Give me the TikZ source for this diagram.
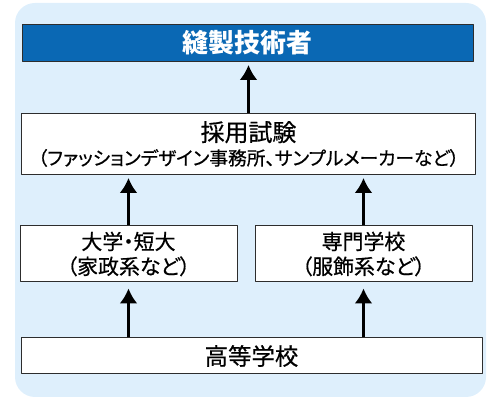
\documentclass[tikz,border=0pt]{standalone}
\usepackage{fontspec}
\newfontfamily\jpfont[FakeBold=0.6]{Noto Sans CJK JP}
\newfontfamily\jppfont[RawFeature=+palt,FakeBold=0.6]{Noto Sans CJK JP}
\newfontfamily\jpbfont{Noto Sans CJK JP}
\usetikzlibrary{arrows.meta}
\definecolor{bgblue}{RGB}{222,239,252}
\definecolor{topblue}{RGB}{10,104,180}
\definecolor{edgegray}{RGB}{45,45,45}
\begin{document}
\begin{tikzpicture}[>={Latex[width=18bp,length=15bp]},line join=bevel,
  box/.style={draw=edgegray,line width=1bp,fill=white,rectangle,inner sep=0pt,align=center},
  up/.style={->,line width=2.6bp,shorten >=3bp}]
%%
\useasboundingbox (0bp,0bp) rectangle (500bp,400bp);
\fill [bgblue,rounded corners=20bp] (15bp,3bp) rectangle (486bp,397bp);
\node (title) at (247.5bp,357bp) [box,fill=topblue,text=white,minimum width=451bp,minimum height=37bp,font=\jpbfont\bfseries\fontsize{26}{30}\selectfont] {縫製技術者};
  \node (exam) at (248.5bp,256bp) [box,minimum width=454bp,minimum height=61bp,font=\jpfont\fontsize{24}{24}\selectfont] {採用試験\\\jppfont\fontsize{18.8}{24}\selectfont （ファッションデザイン事務所、サンプルメーカーなど）};
  \node (univ) at (128.5bp,146bp) [box,minimum width=217bp,minimum height=56bp,font=\jppfont\fontsize{21}{25}\selectfont] {大学・短大\\（家政系など）};
  \node (senmon) at (363.5bp,146bp) [box,minimum width=217bp,minimum height=56bp,font=\jppfont\fontsize{21}{25}\selectfont] {専門学校\\（服飾系など）};
  \node (koko) at (251.5bp,44bp) [box,minimum width=461bp,minimum height=36bp,font=\jpfont\fontsize{23.5}{26}\selectfont] {高等学校};
  \draw [up] (exam.north) -- (exam.north |- title.south);
  \draw [up] (univ.north) -- (univ.north |- exam.south);
  \draw [up] (senmon.north) -- (senmon.north |- exam.south);
  \draw [up,shorten >=6bp] (univ.south |- koko.north) -- (univ.south);
  \draw [up,shorten >=6bp] (senmon.south |- koko.north) -- (senmon.south);
%
\end{tikzpicture}
\end{document}
